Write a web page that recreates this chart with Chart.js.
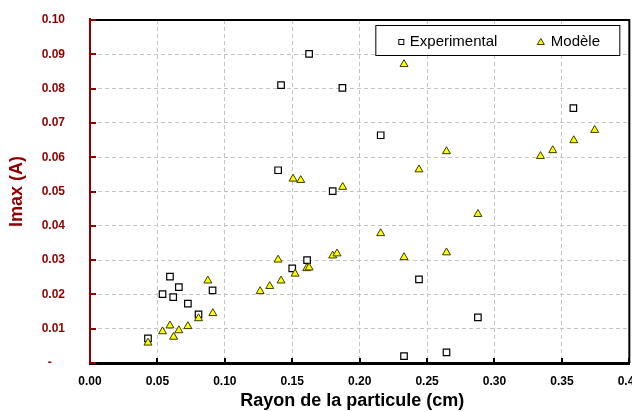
<!DOCTYPE html>
<html>
<head>
<meta charset="utf-8">
<script src="https://cdn.jsdelivr.net/npm/chart.js@4/dist/chart.umd.min.js"></script>
<style>
    html, body { margin: 0; padding: 0; background: #fff; overflow: hidden; }
    #wrap { width: 652px; height: 412px; }
</style>
</head>
<body>
<div id="wrap"><canvas id="imaxChart" width="652" height="412"></canvas></div>
<script>
// Data
const expRadius = [0.043, 0.0538, 0.0593, 0.0617, 0.0659, 0.0726, 0.0805, 0.0909, 0.1395, 0.1417,
    0.150, 0.161, 0.1625, 0.180, 0.1872, 0.2156, 0.2329, 0.244, 0.2644, 0.2877, 0.3585];
const expImax = [0.0072, 0.0201, 0.0252, 0.0192, 0.0221, 0.0173, 0.0142, 0.0212, 0.0562, 0.0810,
    0.0276, 0.0300, 0.0901, 0.0501, 0.0802, 0.0664, 0.0020, 0.0244, 0.0031, 0.0133, 0.0743];

const modRadius = [0.043, 0.0538, 0.0593, 0.062, 0.0659, 0.0726, 0.0805, 0.0874, 0.0911, 0.1262,
    0.1333, 0.1395, 0.1417, 0.1506, 0.1521, 0.1563, 0.1607, 0.1625, 0.180, 0.1832,
    0.1874, 0.2156, 0.2329, 0.2329, 0.244, 0.2644, 0.2644, 0.2877, 0.3341, 0.3432,
    0.3588, 0.3743];
const modImax = [0.0059, 0.0092, 0.0109, 0.0076, 0.0095, 0.0107, 0.0130, 0.0240, 0.0145, 0.0209,
    0.0224, 0.0301, 0.0240, 0.0537, 0.0260, 0.0533, 0.0276, 0.0278, 0.0313, 0.0319,
    0.0513, 0.0378, 0.0871, 0.0308, 0.0564, 0.0617, 0.0322, 0.0434, 0.0603, 0.0620,
    0.0649, 0.0679];

const seriesNames = ["Experimental", "Modèle"];
const xTitle = "Rayon de la particule (cm)";
const yTitle = "Imax (A)";

const RED = "#900000";
const FONT = "'Liberation Sans', Arial, sans-serif";

function toPoints(xs, ys) {
    return xs.map((x, i) => ({ x: x, y: ys[i] }));
}

// Frame, inner tick marks and boxed legend
const framePlugin = {
    id: "frame",
    afterDraw(chart) {
        const { ctx, chartArea: a, scales: { x, y } } = chart;
        ctx.save();

        // top + right border
        ctx.strokeStyle = "#000";
        ctx.lineWidth = 2;
        ctx.beginPath();
        ctx.moveTo(a.left, a.top);
        ctx.lineTo(a.right, a.top);
        ctx.lineTo(a.right, a.bottom);
        ctx.stroke();

        // x ticks (inside, upward)
        ctx.beginPath();
        x.ticks.forEach(t => {
            const px = Math.round(x.getPixelForValue(t.value));
            ctx.moveTo(px, a.bottom);
            ctx.lineTo(px, a.bottom - 5);
        });
        ctx.stroke();

        // y axis line + ticks (inside, to the right)
        ctx.strokeStyle = RED;
        ctx.beginPath();
        ctx.moveTo(a.left, a.top - 2);
        ctx.lineTo(a.left, a.bottom);
        y.ticks.forEach(t => {
            const py = Math.round(y.getPixelForValue(t.value));
            ctx.moveTo(a.left, py);
            ctx.lineTo(a.left + 6, py);
        });
        ctx.stroke();

        // legend box
        const bx = a.right - 253.5, by = a.top + 5.5, bw = 244, bh = 30;
        ctx.fillStyle = "#fff";
        ctx.fillRect(bx, by, bw, bh);
        ctx.strokeStyle = "#000";
        ctx.lineWidth = 1;
        ctx.strokeRect(bx, by, bw, bh);

        const cy = by + 17;
        // square marker
        ctx.fillStyle = "#fff";
        ctx.fillRect(bx + 23, cy - 3, 5, 5);
        ctx.strokeRect(bx + 23, cy - 3, 5, 5);
        // triangle marker
        ctx.beginPath();
        ctx.moveTo(bx + 165, cy - 4);
        ctx.lineTo(bx + 168.5, cy + 2);
        ctx.lineTo(bx + 161.5, cy + 2);
        ctx.closePath();
        ctx.fillStyle = "#ffff00";
        ctx.fill();
        ctx.strokeStyle = "#3a3a00";
        ctx.stroke();

        ctx.fillStyle = "#000";
        ctx.font = "15px " + FONT;
        ctx.textBaseline = "middle";
        ctx.textAlign = "left";
        ctx.fillText(seriesNames[0], bx + 34, cy - 1);
        ctx.fillText(seriesNames[1], bx + 175, cy - 1);

        ctx.restore();
    }
};

new Chart(document.getElementById("imaxChart"), {
    type: "scatter",
    data: {
        datasets: [{
            label: seriesNames[0],
            data: toPoints(expRadius, expImax),
            pointStyle: "rect",
            pointRadius: 4.6,
            pointHoverRadius: 4.6,
            pointBackgroundColor: "#fff",
            pointBorderColor: "#000",
            pointBorderWidth: 1.2,
            order: 1
        }, {
            label: seriesNames[1],
            data: toPoints(modRadius, modImax),
            pointStyle: "triangle",
            pointRadius: 4.6,
            pointHoverRadius: 4.6,
            pointBackgroundColor: "#ffff00",
            pointBorderColor: "#3a3a00",
            pointBorderWidth: 1,
            order: 0
        }]
    },
    options: {
        responsive: false,
        animation: false,
        events: [],
        layout: {
            padding: { top: 20, right: 22, left: 0, bottom: 0 }
        },
        plugins: {
            legend: { display: false },
            tooltip: { enabled: false }
        },
        scales: {
            x: {
                type: "linear",
                min: 0,
                max: 0.4,
                afterFit: s => { s.height = 49; },
                ticks: {
                    stepSize: 0.05,
                    padding: 11,
                    color: "#000",
                    font: { family: FONT, size: 12, weight: "bold" },
                    callback: v => Number(v).toFixed(2)
                },
                grid: { color: "#c4c4c4", lineWidth: 1, drawTicks: false },
                border: { display: true, color: "#000", width: 3, dash: [4, 3] },
                title: {
                    display: true,
                    // trailing spaces nudge the centred title a bit to the left, like the original
                    text: xTitle + "\u00a0\u00a0\u00a0",
                    color: "#000",
                    font: { family: FONT, size: 18, weight: "bold", lineHeight: 1.1 },
                    padding: { top: 0, bottom: 1 }
                }
            },
            y: {
                type: "linear",
                min: 0,
                max: 0.1,
                // tick padding would otherwise inflate the top padding
                afterFit: s => { s.width = 90; s.paddingTop = 8; s.paddingBottom = 8; },
                ticks: {
                    stepSize: 0.01,
                    padding: 25,
                    color: RED,
                    font: { family: FONT, size: 12, weight: "bold" },
                    callback: v => (Math.abs(v) < 1e-9 ? "-    " : Number(v).toFixed(2))
                },
                grid: { color: "#c4c4c4", lineWidth: 1, drawTicks: false },
                border: { display: true, color: RED, width: 2, dash: [4, 3] },
                title: {
                    display: true,
                    text: yTitle,
                    color: RED,
                    font: { family: FONT, size: 18, weight: "bold", lineHeight: 1.2 },
                    padding: { top: 6, bottom: 0 }
                }
            }
        }
    },
    plugins: [framePlugin]
});
</script>
</body>
</html>
